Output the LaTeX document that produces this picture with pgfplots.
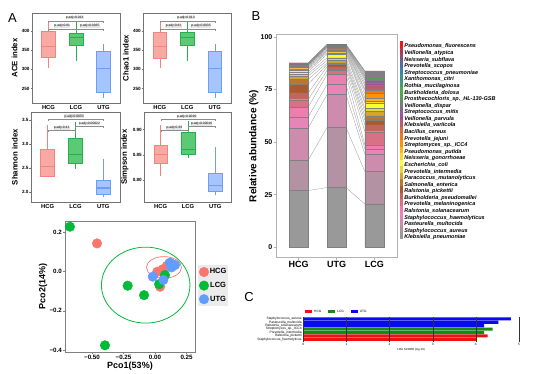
\documentclass[border=0pt]{standalone}
\usepackage{fontspec}
\setmainfont{Liberation Sans}
\usepackage{pgfplots}
\pgfplotsset{compat=1.18}
\usepackage{pgfplotstable}

\newcommand\fs[1]{\fontsize{#1}{#1}\selectfont}

\definecolor{hcgF}{HTML}{F9A9A3}
\definecolor{hcgD}{HTML}{F4837B}
\definecolor{lcgF}{HTML}{5CC977}
\definecolor{lcgD}{HTML}{24B14A}
\definecolor{utgF}{HTML}{A6C4FD}
\definecolor{utgD}{HTML}{6E9DF6}
\definecolor{pR}{HTML}{F8766D}
\definecolor{pG}{HTML}{00BA38}
\definecolor{pB}{HTML}{619CFF}
\definecolor{cR}{HTML}{F01010}
\definecolor{cG}{HTML}{168A16}
\definecolor{cB}{HTML}{0A0AF0}

\definecolor{cKp}{RGB}{153,153,153}
\definecolor{cSa}{RGB}{179,146,164}
\definecolor{cPm}{RGB}{205,140,174}
\definecolor{cSh}{RGB}{231,133,185}
\definecolor{cRs}{RGB}{239,125,175}
\definecolor{cPmel}{RGB}{216,113,134}
\definecolor{cBp}{RGB}{194,101,92}
\definecolor{cRp}{RGB}{172,89,50}
\definecolor{cSe}{RGB}{184,121,42}
\definecolor{cPa}{RGB}{209,168,45}
\definecolor{cPi}{RGB}{234,214,48}
\definecolor{cEc}{RGB}{255,251,49}
\definecolor{cNg}{RGB}{255,215,35}
\definecolor{cPp}{RGB}{255,180,21}
\definecolor{cSicc}{RGB}{255,145,7}
\definecolor{cPj}{RGB}{241,120,22}
\definecolor{cBc}{RGB}{212,107,68}
\definecolor{cKv}{RGB}{184,93,113}
\definecolor{cVp}{RGB}{156,80,158}
\definecolor{cSm}{RGB}{134,101,142}
\definecolor{cVd}{RGB}{113,128,117}
\definecolor{cPro}{RGB}{93,155,92}
\definecolor{cBd}{RGB}{76,172,82}
\definecolor{cRm}{RGB}{69,158,112}
\definecolor{cXc}{RGB}{63,145,142}
\definecolor{cSpn}{RGB}{57,131,173}
\definecolor{cPs}{RGB}{85,109,157}
\definecolor{cNs}{RGB}{132,81,114}
\definecolor{cVa}{RGB}{180,54,71}
\definecolor{cPf}{RGB}{228,26,28}

% relative abundance (%), rows: HCG right edge, UTG left edge, UTG right edge, LCG left edge
\pgfplotstableread{
x Kp Sa Pm Sh Rs Pmel Bp Rp Se Pa Pi Ec Ng Pp Sicc Pj Bc Kv Vp Sm Vd Pro Bd Rm Xc Spn Ps Ns Va Pf
0.25 27.0 14.3 15.4 5.2 4.6 3.7 3.2 4.0 2.4 1.6 1.1 1.0 0.8 0.6 0.6 0.5 0.3 0.2 0.15 0.1 0.1 0.1 0.1 0.1 0.1 0.1 0.1 0.1 0.1 0.05
0.75 28.4 28.6 15.6 4.8 4.8 1.9 1.7 1.1 0.8 1.1 1.3 1.6 0.8 0.6 0.5 0.3 0.5 0.5 0.2 0.15 0.15 0.15 0.15 0.15 0.15 0.1 0.1 0.1 0.1 0.1
1.25 28.4 28.6 15.6 4.8 4.8 1.9 1.7 1.1 0.8 1.1 1.3 1.6 0.8 0.6 0.5 0.3 0.5 0.5 0.2 0.15 0.15 0.15 0.15 0.15 0.15 0.1 0.1 0.1 0.1 0.1
1.75 20.6 15.4 8.3 2.5 1.9 6.3 3.2 2.4 1.9 2.1 1.6 2.4 0.8 1.6 2.1 1.6 0.6 1.6 1.3 1.3 0.6 0.6 0.6 0.5 0.5 0.5 0.5 0.3 0.1 0.1
}\tabB

\pgfplotsset{
  /pgf/number format/assume math mode=true,
  boxpanel/.style={
    scale only axis, width=88pt, height=90pt,
    xmin=0.4, xmax=3.6, xtick={1,2,3}, xticklabels={HCG,LCG,UTG},
    axis line style={draw=black!55, line width=0.7pt},
    tick style={draw=black!55, line width=0.5pt},
    tick align=outside, xtick pos=bottom, ytick pos=left,
    major tick length=1.5pt,
    yticklabel style={font=\bfseries\fs{4.6}, inner sep=0.8pt},
    xticklabel style={font=\bfseries\fs{5.8}, inner sep=1pt},
    ylabel style={font=\bfseries\fs{7.8}},
    clip=false,
  },
  sqleg/.style={legend image code/.code={\fill[##1,draw=none] (0pt,-1.8pt) rectangle (2.7pt,5.1pt);}},
  cleg/.style={legend image code/.code={\fill[##1,draw=none] (0pt,-1.3pt) rectangle (7pt,1.3pt);}},
}

% box: xleft xcentre xright lowerwhisker lowerquartile median upperquartile upperwhisker colour
\newcommand\mybox[9]{%
  \addplot[draw=#9D, line width=0.6pt] coordinates {(#2,#4)(#2,#5)};
  \addplot[draw=#9D, line width=0.6pt] coordinates {(#2,#7)(#2,#8)};
  \addplot[draw=#9D, fill=#9F, line width=0.6pt] coordinates {(#1,#5)(#3,#5)(#3,#7)(#1,#7)} --cycle;
  \addplot[draw=#9D, line width=1.1pt] coordinates {(#1,#6)(#3,#6)};
}
% significance bracket: x1 x2 y ytip ytext xtext label
\newcommand\sig[7]{%
  \addplot[black!45, line width=0.3pt] coordinates {(#1,#4)(#1,#3)(#2,#3)(#2,#4)};
  \node[fill=black!10, inner sep=0.3pt, font=\fs{3.3}] at (axis cs:#6,#5) {#7};
}
\newcommand\spb[2]{\addplot[fill=c#1, draw=black!50, line width=0.12pt, sqleg, skip coords between index={2}{3}] table[x expr={round(\thisrow{x})}, y=#1]{\tabB};\addlegendentry{#2}}
\newcommand\spl[1]{\addplot[black!45, line width=0.25pt, no marks] table[x=x, y=#1]{\tabB};}

\begin{document}
\begin{tikzpicture}
\path[use as bounding box] (0,0) rectangle (540pt,374pt);

\node[font=\fs{13}] at (12.5pt,356pt) {A};
\node[font=\fs{13}] at (256pt,358pt) {B};
\node[font=\fs{13}] at (249pt,77.3pt) {C};

% ---------- ACE ----------
\begin{axis}[boxpanel, at={(32pt,271pt)}, anchor=south west,
  ymin=213, ymax=446, ytick={250,300,350,400}, ylabel={ACE index}]
\mybox{0.75}{1}{1.25}{303}{330}{359}{398}{426}{hcg}
\mybox{1.75}{2}{2.25}{322}{363}{383}{393}{423}{lcg}
\mybox{2.75}{3}{3.25}{226}{241}{303}{346}{367}{utg}
\sig{1}{3}{425.9}{421}{434.7}{1.95}{p.adj=0.013}
\sig{1}{2}{403.6}{399}{412}{1.5}{p.adj=0.81}
\sig{2}{3}{403.6}{399}{412}{2.5}{p.adj=0.0035}
\end{axis}

% ---------- Chao1 ----------
\begin{axis}[boxpanel, at={(143.3pt,271pt)}, anchor=south west,
  ymin=213, ymax=446, ytick={250,300,350,400}, ylabel={Chao1 index}]
\mybox{0.75}{1}{1.25}{303}{329}{359}{397}{423}{hcg}
\mybox{1.75}{2}{2.25}{322}{363}{383}{395}{423}{lcg}
\mybox{2.75}{3}{3.25}{226}{241}{303}{346}{367}{utg}
\sig{1}{3}{425.9}{421}{434.7}{1.95}{p.adj=0.013}
\sig{1}{2}{403.6}{399}{412}{1.5}{p.adj=0.81}
\sig{2}{3}{403.6}{399}{412}{2.5}{p.adj=0.0035}
\end{axis}

% ---------- Shannon ----------
\begin{axis}[boxpanel, at={(31pt,172pt)}, anchor=south west, width=89pt, height=89.5pt,
  ymin=1.80, ymax=3.656, ytick={2.0,2.5,3.0,3.5},
  yticklabel style={/pgf/number format/.cd, fixed, fixed zerofill, precision=1},
  ylabel={Shannon index}]
\mybox{0.75}{1}{1.25}{2.31}{2.34}{2.54}{2.89}{3.40}{hcg}
\mybox{1.75}{2}{2.25}{2.49}{2.61}{2.79}{3.13}{3.46}{lcg}
\mybox{2.75}{3}{3.25}{1.91}{1.96}{2.09}{2.26}{2.70}{utg}
\sig{1}{3}{3.52}{3.48}{3.58}{1.95}{p.adj=0.0053}
\sig{1}{2}{3.29}{3.25}{3.34}{1.5}{p.adj=0.41}
\sig{2}{3}{3.375}{3.335}{3.43}{2.5}{p.adj=0.00022}
\end{axis}

% ---------- Simpson ----------
\begin{axis}[boxpanel, at={(144.3pt,172pt)}, anchor=south west, width=87.4pt, height=89.5pt,
  ymin=0.757, ymax=0.934, ytick={0.80,0.85,0.90},
  yticklabel style={/pgf/number format/.cd, fixed, fixed zerofill, precision=2},
  ylabel={Simpson index}]
\mybox{0.75}{1}{1.25}{0.808}{0.833}{0.851}{0.869}{0.910}{hcg}
\mybox{1.75}{2}{2.25}{0.844}{0.851}{0.860}{0.894}{0.918}{lcg}
\mybox{2.75}{3}{3.25}{0.770}{0.779}{0.789}{0.813}{0.865}{utg}
\sig{1}{3}{0.9204}{0.9164}{0.9263}{1.95}{p.adj=0.0026}
\sig{1}{2}{0.8986}{0.8946}{0.9036}{1.5}{p.adj=0.39}
\sig{2}{3}{0.9065}{0.9025}{0.9119}{2.5}{p.adj=0.00016}
\end{axis}

% ---------- PCoA ----------
\begin{axis}[at={(65pt,22pt)}, anchor=south west, scale only axis, width=130pt, height=131pt,
  xmin=-0.714, xmax=0.317, ymin=-0.41, ymax=0.256,
  xtick={-0.5,-0.25,0,0.25}, xticklabels={−0.50,−0.25,0.00,0.25},
  ytick={-0.4,-0.2,0,0.2}, yticklabels={−0.4,−0.2,0.0,0.2},
  axis line style={draw=black!50, line width=0.8pt}, tick style={draw=black!50},
  tick align=outside, xtick pos=bottom, ytick pos=left, major tick length=2pt,
  ticklabel style={font=\bfseries\fs{6.2}, inner sep=1pt},
  xlabel={Pco1(53\%)}, ylabel={Pco2(14\%)}, label style={font=\bfseries\fs{9}},
  xlabel style={inner sep=1pt}, ylabel style={inner sep=1pt},
  legend style={at={(1.023,0.664)}, anchor=north west, fill=black!8, draw=none,
    inner xsep=1pt, inner ysep=2pt, row sep=4pt, font=\bfseries\fs{7.5}, nodes={inner sep=1pt}},
  mark size=4.8pt]
\addplot[only marks, mark=*, color=pR] coordinates {(-0.460,0.142) (0.018,-0.002) (0.093,0.027) (0.040,-0.078) (0.060,0.010)};
\addlegendentry{HCG}
\addplot[only marks, mark=*, color=pG] coordinates {(-0.675,0.227) (-0.217,-0.073) (-0.087,-0.121) (-0.397,-0.376) (0.032,-0.065) (0.079,-0.019)};
\addlegendentry{LCG}
\addplot[only marks, mark=*, color=pB] coordinates {(0.119,0.044) (0.159,0.032) (-0.018,-0.027) (0.066,-0.044) (0.130,0.020)};
\addlegendentry{UTG}
\draw[pG, line width=0.8pt] (axis cs:-0.074,-0.070) ellipse [x radius=0.351, y radius=0.193];
\draw[pR, line width=0.7pt] (axis cs:0.071,0.020) ellipse [x radius=0.139, y radius=0.055];
\draw[pB, line width=0.7pt] (axis cs:0.119,0.037) ellipse [x radius=0.048, y radius=0.025];
\end{axis}

% ---------- B: connecting lines ----------
\begin{axis}[at={(276pt,116.6pt)}, anchor=south west, scale only axis, width=121pt, height=222.8pt,
  xmin=-0.6, xmax=2.6, ymin=-4.8, ymax=101.1, hide axis, stack plots=y]
\spl{Kp}\spl{Sa}\spl{Pm}\spl{Sh}\spl{Rs}\spl{Pmel}\spl{Bp}\spl{Rp}\spl{Se}\spl{Pa}
\spl{Pi}\spl{Ec}\spl{Ng}\spl{Pp}\spl{Sicc}\spl{Pj}\spl{Bc}\spl{Kv}\spl{Vp}\spl{Sm}
\spl{Vd}\spl{Pro}\spl{Bd}\spl{Rm}\spl{Xc}\spl{Spn}\spl{Ps}\spl{Ns}\spl{Va}\spl{Pf}
\end{axis}

% ---------- B: stacked bars ----------
\begin{axis}[at={(276pt,116.6pt)}, anchor=south west, scale only axis, width=121pt, height=222.8pt,
  xmin=-0.6, xmax=2.6, ymin=-4.8, ymax=101.1, ybar stacked, bar width=0.5,
  xtick={0,1,2}, xticklabels={HCG,UTG,LCG}, ytick={0,25,50,75,100},
  axis line style={draw=black!30, line width=0.8pt}, tick style={draw=black!30, line width=0.6pt},
  tick align=outside, xtick pos=bottom, ytick pos=left, major tick length=2.5pt,
  yticklabel style={font=\bfseries\fs{7}, inner sep=1pt},
  xticklabel style={font=\bfseries\fs{9}, inner sep=1.5pt},
  ylabel={Relative abundance (\%)}, ylabel style={font=\bfseries\fs{10}, inner sep=1pt},
  reverse legend,
  legend cell align=left,
  legend style={at={(1.0248,0.9713)}, anchor=north west, draw=none, fill=none, inner sep=0pt,
    row sep=-1.5pt, font=\bfseries\itshape\fs{5.5},
    nodes={inner ysep=0pt, inner xsep=1.5pt, text height=4.6pt, text depth=1.37pt}}]
\spb{Kp}{Klebsiella\_pneumoniae}
\spb{Sa}{Staphylococcus\_aureus}
\spb{Pm}{Pasteurella\_multocida}
\spb{Sh}{Staphylococcus\_haemolyticus}
\spb{Rs}{Ralstonia\_solanacearum}
\spb{Pmel}{Prevotella\_melaninogenica}
\spb{Bp}{Burkholderia\_pseudomallei}
\spb{Rp}{Ralstonia\_pickettii}
\spb{Se}{Salmonella\_enterica}
\spb{Pa}{Paracoccus\_mutanolyticus}
\spb{Pi}{Prevotella\_intermedia}
\spb{Ec}{Escherichia\_coli}
\spb{Ng}{Neisseria\_gonorrhoeae}
\spb{Pp}{Pseudomonas\_putida}
\spb{Sicc}{Streptomyces\_sp.\_ICC4}
\spb{Pj}{Prevotella\_jejuni}
\spb{Bc}{Bacillus\_cereus}
\spb{Kv}{Klebsiella\_variicola}
\spb{Vp}{Veillonella\_parvula}
\spb{Sm}{Streptococcus\_mitis}
\spb{Vd}{Veillonella\_dispar}
\spb{Pro}{Prosthecochloris\_sp.\_HL-130-GSB}
\spb{Bd}{Burkholderia\_dolosa}
\spb{Rm}{Rothia\_mucilaginosa}
\spb{Xc}{Xanthomonas\_citri}
\spb{Spn}{Streptococcus\_pneumoniae}
\spb{Ps}{Prevotella\_scopos}
\spb{Ns}{Neisseria\_subflava}
\spb{Va}{Veillonella\_atypica}
\spb{Pf}{Pseudomonas\_fluorescens}
\end{axis}

% ---------- C: LDA ----------
\begin{axis}[at={(303.3pt,32.3pt)}, anchor=south west, scale only axis, width=215.7pt, height=25.1pt,
  xmin=0, xmax=5, ymin=0.3, ymax=7.7, xbar, bar shift=0pt, bar width=0.9,
  xtick={0,1,2,3,4,5}, ytick={1,2,3,4,5,6,7},
  yticklabels={Staphylococcus\_haemolyticus, Ralstonia\_pickettii, Prevotella\_intermedia, Streptomyces\_sp.\_ICC4, Ralstonia\_solanacearum, Pasteurella\_multocida, Staphylococcus\_aureus},
  axis line style={draw=none}, major tick length=0pt, axis on top,
  xmajorgrids, grid style={black!80, line width=0.35pt},
  xticklabel style={font=\fs{3.2}, inner sep=1.5pt},
  yticklabel style={font=\fs{3.3}, inner sep=1.5pt},
  xlabel={LDA SCORE (log 10)}, xlabel style={font=\fs{2.9}, inner sep=1pt},
  legend columns=3,
  legend style={at={(0.008,1.195)}, anchor=west, draw=none, fill=none, inner sep=0pt,
    font=\fs{3.2}, /tikz/every even column/.append style={column sep=5pt}}]
\addplot[fill=cR, draw=none, bar shift=0pt, cleg] coordinates {(4.02,1) (4.27,2)};
\addlegendentry{HCG}
\addplot[fill=cG, draw=none, bar shift=0pt, cleg] coordinates {(4.19,3) (4.39,4)};
\addlegendentry{LCG}
\addplot[fill=cB, draw=none, bar shift=0pt, cleg] coordinates {(4.19,5) (4.52,6) (4.81,7)};
\addlegendentry{UTG}
\end{axis}
\end{tikzpicture}
\end{document}
